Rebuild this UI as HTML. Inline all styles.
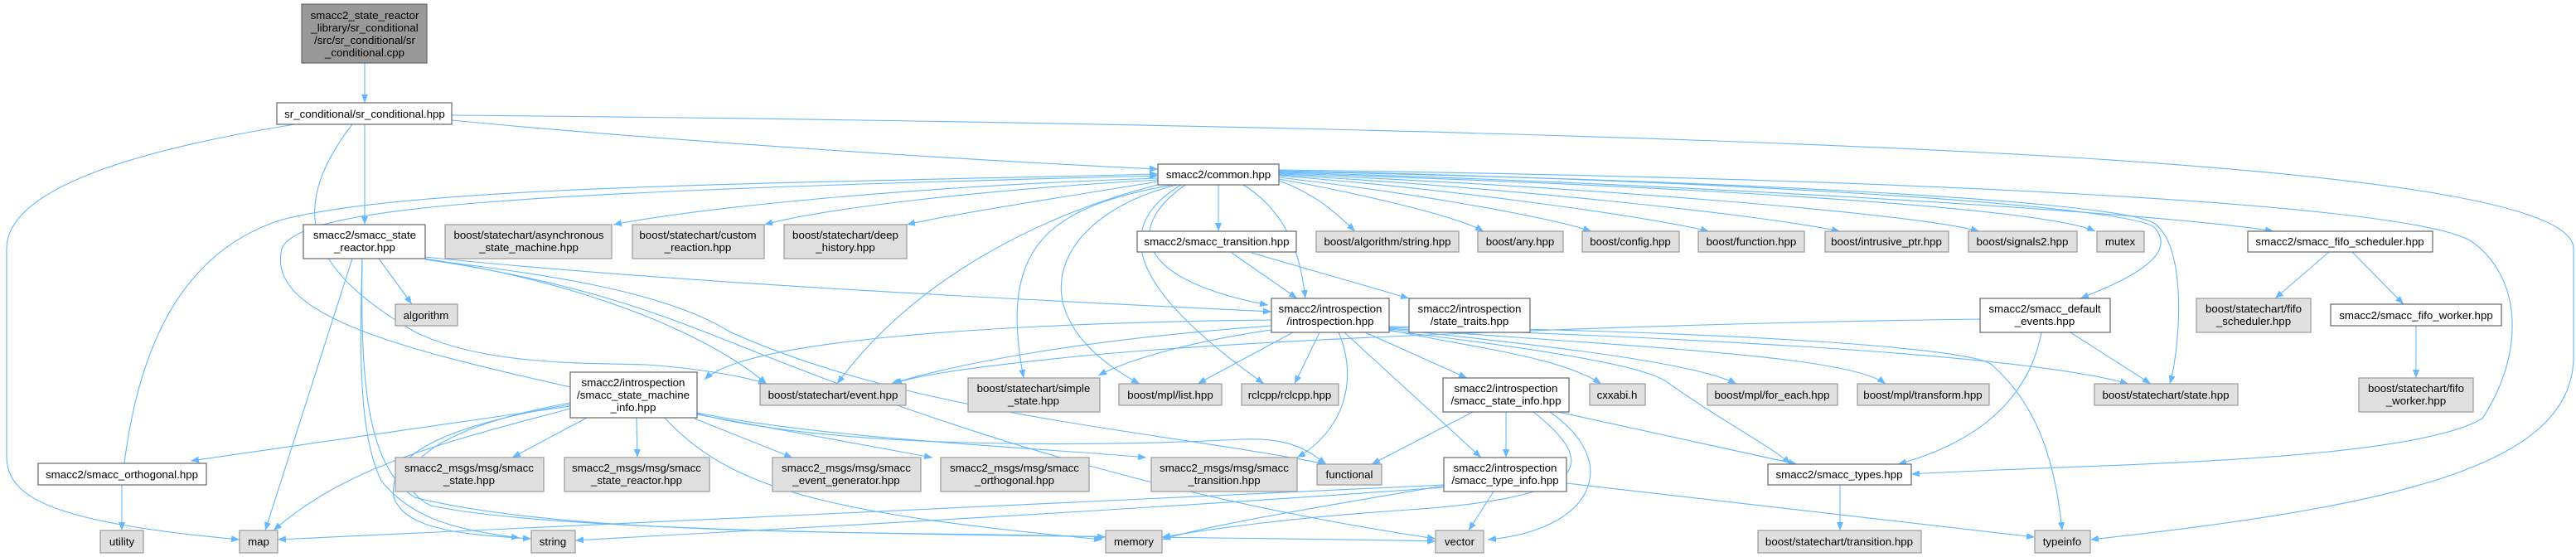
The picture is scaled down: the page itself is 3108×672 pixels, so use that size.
<!DOCTYPE html>
<html><head><meta charset="utf-8"><style>
html,body{margin:0;padding:0;background:#fff;width:3108px;height:672px;overflow:hidden}
svg{display:block}
text{font-family:"Liberation Sans",Arial,sans-serif;font-size:13.3px;fill:#000;text-anchor:middle}
.e{fill:none;stroke:#63b8ff;stroke-width:1.1}
.w{fill:#fff;stroke:#666;stroke-width:1.2}
.g{fill:#e0e0e0;stroke:#999;stroke-width:1.2}
.d{fill:#999;stroke:#666;stroke-width:1.2}
</style></head><body>
<svg width="3108" height="672" viewBox="0 0 3108 672" xmlns="http://www.w3.org/2000/svg">
<defs><marker id="a" markerUnits="userSpaceOnUse" markerWidth="11" markerHeight="8" refX="10" refY="4" orient="auto"><path d="M0,0 L10,4 L0,8 z" fill="#63b8ff"/></marker></defs>
<g class="e" marker-end="url(#a)">
<path d="M440,76 L440,124"/>
<path d="M545,145 C800,170 1200,195 1397,204"/>
<path d="M545,139 C1200,145 2000,160 2500,190 C2900,215 3105,250 3105,300 L3105,430 C3105,560 2900,610 2522,651"/>
<path d="M356,150 C200,175 8,220 8,300 L8,550 C8,600 60,630 289,651"/>
<path d="M440,150 L440,271"/>
<path d="M425,150 C340,260 380,330 500,400 C580,440 700,438 780,440 C850,445 900,455 925,463"/>
<path d="M1397,215 C1100,225 850,250 740,271"/>
<path d="M1397,217 C1200,228 1000,250 922,271"/>
<path d="M1397,219 C1300,235 1150,258 1094,271"/>
<path d="M1470,223 L1470,279"/>
<path d="M1543,218 C1590,235 1615,260 1635,279"/>
<path d="M1543,216 C1650,235 1760,262 1790,279"/>
<path d="M1543,214 C1700,232 1870,262 1920,279"/>
<path d="M1543,212 C1750,228 1980,260 2062,279"/>
<path d="M1543,211 C1800,225 2120,258 2220,279"/>
<path d="M1543,210 C1850,222 2300,255 2388,279"/>
<path d="M1543,209 C1900,220 2450,245 2528,279"/>
<path d="M1543,208 C1950,218 2600,255 2743,279"/>
<path d="M1543,207 C2000,215 2560,240 2600,270 C2640,300 2630,420 2618,463"/>
<path d="M1543,206 C2000,215 2570,245 2600,275 C2630,310 2560,340 2510,360"/>
<path d="M1543,205 C2300,215 2900,245 2980,290 C3040,330 3050,420 2995,505 C2900,560 2500,560 2306,572"/>
<path d="M1400,222 C1250,260 1100,340 1010,463"/>
<path d="M1415,223 C1260,250 1205,300 1235,456"/>
<path d="M1420,223 C1270,260 1220,380 1375,463"/>
<path d="M1425,223 C1330,280 1380,360 1525,463"/>
<path d="M1430,223 C1350,280 1380,340 1530,368"/>
<path d="M1500,223 C1560,260 1570,320 1575,360"/>
<path d="M2810,304 L2745,360"/>
<path d="M2838,304 L2900,367"/>
<path d="M2915,393 L2915,456"/>
<path d="M1486,305 L1565,360"/>
<path d="M1510,305 L1700,360"/>
<path d="M1534,386 C1200,390 900,410 850,458"/>
<path d="M1534,393 C1300,410 1150,440 1075,463"/>
<path d="M1534,398 C1450,410 1370,430 1325,453"/>
<path d="M1560,401 L1445,463"/>
<path d="M1592,401 L1562,463"/>
<path d="M1615,401 C1640,460 1620,520 1565,552"/>
<path d="M1622,401 L1787,552"/>
<path d="M1647,401 L1770,456"/>
<path d="M1676,398 C1780,420 1880,430 1932,463"/>
<path d="M1676,397 C1900,420 2050,440 2095,463"/>
<path d="M1676,396 C2000,420 2230,430 2275,463"/>
<path d="M1676,395 C2100,410 2450,430 2568,463"/>
<path d="M1676,394 C2100,400 2380,420 2403,440 C2460,490 2480,560 2488,640"/>
<path d="M1676,399 C1850,420 1980,440 2010,460 C2080,510 2140,540 2160,560"/>
<path d="M1777,497 L1655,560"/>
<path d="M1817,497 L1817,552"/>
<path d="M1870,497 C1960,560 1920,640 1795,651"/>
<path d="M1850,497 C1930,560 1920,600 1700,615 C1550,625 1450,640 1402,648"/>
<path d="M1880,497 L2168,560"/>
<path d="M1802,593 L1772,640"/>
<path d="M1742,586 C1600,610 1450,635 1402,651"/>
<path d="M1742,588 C1300,620 900,640 694,652"/>
<path d="M1742,585 C1200,610 700,630 335,651"/>
<path d="M1890,583 L2455,648"/>
<path d="M2220,585 L2220,640"/>
<path d="M2498,401 L2595,463"/>
<path d="M2389,385 C2000,390 1500,410 1300,430 C1150,445 1100,455 1078,463"/>
<path d="M2463,401 C2450,470 2400,530 2290,560"/>
<path d="M688,490 L230,556"/>
<path d="M688,493 C550,530 420,560 330,640"/>
<path d="M708,504 L618,552"/>
<path d="M768,504 L769,552"/>
<path d="M838,505 L956,552"/>
<path d="M841,500 L1125,552"/>
<path d="M841,498 C1000,530 1250,540 1383,552"/>
<path d="M841,499 C1000,540 1300,540 1500,530 C1560,528 1580,545 1600,560"/>
<path d="M802,504 C880,590 1000,620 1330,651"/>
<path d="M688,488 C500,520 470,560 475,600 C490,640 560,645 641,650"/>
<path d="M688,486 C500,520 460,580 520,610 C700,650 1400,645 1732,653"/>
<path d="M688,467 C480,420 320,380 340,300 C360,250 600,232 1397,212"/>
<path d="M150,559 C170,400 230,300 340,265 C500,225 900,222 1397,210"/>
<path d="M147,585 L147,640"/>
<path d="M457,312 L497,367"/>
<path d="M425,312 L320,640"/>
<path d="M437,312 C435,400 430,520 460,580 C500,630 560,640 627,649"/>
<path d="M437,312 C435,450 440,560 500,600 C700,650 1100,640 1334,648"/>
<path d="M513,310 C800,340 1200,360 1534,376"/>
<path d="M513,312 C700,340 850,400 925,463"/>
<path d="M513,313 C700,340 800,380 900,420 C1150,520 1400,600 1732,650"/>
<path d="M513,313 C650,330 800,350 880,400 C1100,500 1400,520 1600,560"/>
</g>
<g>
<rect class="d" x="364" y="5" width="151" height="71"/>
<text x="440" y="23">smacc2_state_reactor</text><text x="440" y="38">_library/sr_conditional</text><text x="440" y="53">/src/sr_conditional/sr</text><text x="440" y="68">_conditional.cpp</text>
<rect class="w" x="334" y="124" width="211" height="26"/><text x="440" y="142">sr_conditional/sr_conditional.hpp</text>
<rect class="w" x="1397" y="198" width="146" height="25"/><text x="1470" y="215">smacc2/common.hpp</text>
<rect class="w" x="366" y="271" width="147" height="41"/><text x="440" y="288">smacc2/smacc_state</text><text x="440" y="303">_reactor.hpp</text>
<rect class="g" x="537" y="271" width="201" height="41"/><text x="638" y="288">boost/statechart/asynchronous</text><text x="638" y="303">_state_machine.hpp</text>
<rect class="g" x="763" y="271" width="159" height="41"/><text x="842" y="288">boost/statechart/custom</text><text x="842" y="303">_reaction.hpp</text>
<rect class="g" x="946" y="271" width="148" height="41"/><text x="1020" y="288">boost/statechart/deep</text><text x="1020" y="303">_history.hpp</text>
<rect class="w" x="1372" y="279" width="192" height="25"/><text x="1468" y="296">smacc2/smacc_transition.hpp</text>
<rect class="g" x="1588" y="279" width="172" height="25"/><text x="1674" y="296">boost/algorithm/string.hpp</text>
<rect class="g" x="1783" y="279" width="103" height="25"/><text x="1834" y="296">boost/any.hpp</text>
<rect class="g" x="1909" y="279" width="117" height="25"/><text x="1967" y="296">boost/config.hpp</text>
<rect class="g" x="2049" y="279" width="128" height="25"/><text x="2113" y="296">boost/function.hpp</text>
<rect class="g" x="2202" y="279" width="149" height="25"/><text x="2276" y="296">boost/intrusive_ptr.hpp</text>
<rect class="g" x="2375" y="279" width="131" height="25"/><text x="2440" y="296">boost/signals2.hpp</text>
<rect class="g" x="2530" y="279" width="57" height="25"/><text x="2558" y="296">mutex</text>
<rect class="w" x="2712" y="279" width="223" height="25"/><text x="2823" y="296">smacc2/smacc_fifo_scheduler.hpp</text>
<rect class="g" x="477" y="367" width="75" height="26"/><text x="514" y="385">algorithm</text>
<rect class="w" x="1534" y="360" width="142" height="41"/><text x="1605" y="377">smacc2/introspection</text><text x="1605" y="392">/introspection.hpp</text>
<rect class="w" x="1700" y="360" width="146" height="41"/><text x="1773" y="377">smacc2/introspection</text><text x="1773" y="392">/state_traits.hpp</text>
<rect class="w" x="2389" y="360" width="157" height="41"/><text x="2467" y="377">smacc2/smacc_default</text><text x="2467" y="392">_events.hpp</text>
<rect class="g" x="2650" y="360" width="138" height="41"/><text x="2719" y="377">boost/statechart/fifo</text><text x="2719" y="392">_scheduler.hpp</text>
<rect class="w" x="2812" y="367" width="206" height="26"/><text x="2915" y="385">smacc2/smacc_fifo_worker.hpp</text>
<rect class="w" x="688" y="449" width="153" height="55"/><text x="764" y="466">smacc2/introspection</text><text x="764" y="481">/smacc_state_machine</text><text x="764" y="496">_info.hpp</text>
<rect class="g" x="917" y="463" width="176" height="26"/><text x="1005" y="481">boost/statechart/event.hpp</text>
<rect class="g" x="1168" y="456" width="159" height="41"/><text x="1247" y="473">boost/statechart/simple</text><text x="1247" y="488">_state.hpp</text>
<rect class="g" x="1350" y="463" width="124" height="26"/><text x="1412" y="481">boost/mpl/list.hpp</text>
<rect class="g" x="1498" y="463" width="117" height="26"/><text x="1556" y="481">rclcpp/rclcpp.hpp</text>
<rect class="w" x="1741" y="456" width="152" height="41"/><text x="1817" y="473">smacc2/introspection</text><text x="1817" y="488">/smacc_state_info.hpp</text>
<rect class="g" x="1918" y="463" width="67" height="26"/><text x="1951" y="481">cxxabi.h</text>
<rect class="g" x="2060" y="463" width="157" height="26"/><text x="2138" y="481">boost/mpl/for_each.hpp</text>
<rect class="g" x="2241" y="463" width="159" height="26"/><text x="2320" y="481">boost/mpl/transform.hpp</text>
<rect class="g" x="2527" y="463" width="173" height="26"/><text x="2613" y="481">boost/statechart/state.hpp</text>
<rect class="g" x="2846" y="456" width="138" height="41"/><text x="2915" y="473">boost/statechart/fifo</text><text x="2915" y="488">_worker.hpp</text>
<rect class="w" x="46" y="559" width="203" height="26"/><text x="147" y="577">smacc2/smacc_orthogonal.hpp</text>
<rect class="g" x="477" y="552" width="179" height="41"/><text x="566" y="569">smacc2_msgs/msg/smacc</text><text x="566" y="584">_state.hpp</text>
<rect class="g" x="681" y="552" width="175" height="41"/><text x="768" y="569">smacc2_msgs/msg/smacc</text><text x="768" y="584">_state_reactor.hpp</text>
<rect class="g" x="932" y="552" width="179" height="41"/><text x="1021" y="569">smacc2_msgs/msg/smacc</text><text x="1021" y="584">_event_generator.hpp</text>
<rect class="g" x="1135" y="552" width="179" height="41"/><text x="1224" y="569">smacc2_msgs/msg/smacc</text><text x="1224" y="584">_orthogonal.hpp</text>
<rect class="g" x="1389" y="552" width="176" height="41"/><text x="1477" y="569">smacc2_msgs/msg/smacc</text><text x="1477" y="584">_transition.hpp</text>
<rect class="g" x="1589" y="560" width="78" height="25"/><text x="1628" y="577">functional</text>
<rect class="w" x="1742" y="552" width="148" height="41"/><text x="1816" y="569">smacc2/introspection</text><text x="1816" y="584">/smacc_type_info.hpp</text>
<rect class="w" x="2133" y="560" width="173" height="25"/><text x="2219" y="577">smacc2/smacc_types.hpp</text>
<rect class="g" x="121" y="640" width="52" height="27"/><text x="147" y="658">utility</text>
<rect class="g" x="289" y="640" width="46" height="27"/><text x="312" y="658">map</text>
<rect class="g" x="641" y="640" width="53" height="27"/><text x="667" y="658">string</text>
<rect class="g" x="1334" y="640" width="68" height="27"/><text x="1368" y="658">memory</text>
<rect class="g" x="1732" y="640" width="58" height="27"/><text x="1761" y="658">vector</text>
<rect class="g" x="2121" y="640" width="197" height="27"/><text x="2219" y="658">boost/statechart/transition.hpp</text>
<rect class="g" x="2455" y="640" width="67" height="27"/><text x="2488" y="658">typeinfo</text>
</g>
</svg>
</body></html>
